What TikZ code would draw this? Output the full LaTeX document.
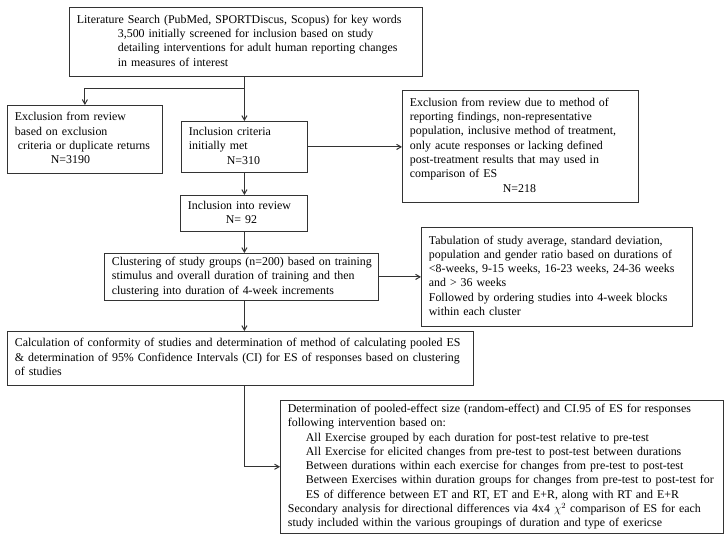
\documentclass[tikz,border=0pt]{standalone}
\usepackage{fontspec}
\setmainfont{Liberation Serif}
\usetikzlibrary{arrows}
\tikzstyle{kasten}=[draw=black!80,line width=0.8bp,anchor=north west,inner xsep=7.5bp,inner ysep=2bp,align=left,font=\fontsize{11.9bp}{14.3bp}\selectfont]
\tikzstyle{pfeil}=[draw=black!80,line width=1bp,-angle 60]
\newcommand{\einr}{\hspace*{18bp}}
\newcommand{\zeilen}[1]{\begin{tabular}{@{}l@{}}#1\end{tabular}}

\begin{document}
\begin{tikzpicture}[x=1bp,y=-1bp]
			% Rahmen festlegen
			\useasboundingbox (0,0) rectangle (726,545);
			% Kaesten zeichnen
			\node[kasten,text width=338bp,minimum height=69bp] (suche) at (69,7) {\zeilen{Literature Search (PubMed, SPORTDiscus, Scopus) for key words\\
				\hspace*{41bp}3,500 initially screened for inclusion based on study\\
				\hspace*{41bp}detailing interventions for adult human reporting changes\\
				\hspace*{41bp}in measures of interest}};
			\node[kasten,text width=140bp,minimum height=68bp] (ausschl) at (7,105) {\zeilen{Exclusion from review\\ based on exclusion\\ \hspace*{3bp}criteria or duplicate returns\\ \hspace*{36bp}N=3190}};
			\node[kasten,text width=111bp,minimum height=51bp] (einschl) at (181,121) {\zeilen{Inclusion criteria\\ initially met\\ \hspace*{38bp}N=310}};
			\node[kasten,text width=221bp,minimum height=112bp] (ausschlb) at (402,90) {\zeilen{Exclusion from review due to method of\\ reporting findings, non-representative\\ population, inclusive method of treatment,\\ only acute responses or lacking defined\\ post-treatment results that may used in\\ comparison of ES\\ \hspace*{93bp}N=218}};
			\node[kasten,text width=112bp,minimum height=36bp] (review) at (180,195) {\zeilen{Inclusion into review\\ \hspace*{38bp}N= 92}};
			\node[kasten,text width=259bp,minimum height=47bp] (cluster) at (104,253) {\zeilen{Clustering of study groups (n=200) based on training\\ stimulus and overall duration of training and then\\ clustering into duration of 4-week increments}};
			\node[kasten,text width=256bp,minimum height=99bp] (tab) at (421,227) {\zeilen{Tabulation of study average, standard deviation,\\ population and gender ratio based on durations of\\ <8-weeks, 9-15 weeks, 16-23 weeks, 24-36 weeks\\ and > 36 weeks\\ Followed by ordering studies into 4-week blocks\\ within each cluster}};
			\node[kasten,text width=451bp,minimum height=54bp] (calc) at (7,331) {\zeilen{Calculation of conformity of studies and determination of method of calculating pooled ES\\ \& determination of 95\% Confidence Intervals (CI) for ES of responses based on clustering\\ of studies}};
			\node[kasten,text width=428bp,minimum height=132bp] (pooled) at (280,400) {\zeilen{Determination of pooled-effect size (random-effect) and CI.95 of ES for responses\\ following intervention based on:\\
				\einr All Exercise grouped by each duration for post-test relative to pre-test\\
				\einr All Exercise for elicited changes from pre-test to post-test between durations\\
				\einr Between durations within each exercise for changes from pre-test to post-test\\
				\einr Between Exercises within duration groups for changes from pre-test to post-test for\\
				\einr ES of difference between ET and RT, ET and E+R, along with RT and E+R\\
				Secondary analysis for directional differences via 4x4 $\chi^2$ comparison of ES for each\\
				study included within the various groupings of duration and type of exericse}};
			% Pfeile zeichnen
			\draw[pfeil] (einschl.north |- suche.south) -- (einschl.north);
			\draw[pfeil] (einschl.north |- 0,89) -| (ausschl.north);
			\draw[pfeil] (einschl.east) -- (einschl.east -| ausschlb.west);
			\draw[pfeil] (einschl.south) -- (einschl.south |- review.north);
			\draw[pfeil] (einschl.south |- review.south) -- (einschl.south |- cluster.north);
			\draw[pfeil] (cluster.east) -- (cluster.east -| tab.west);
			\draw[pfeil] (einschl.south |- cluster.south) -- (einschl.south |- calc.north);
			\draw[pfeil] (einschl.south |- calc.south) |- (pooled.west);
		\end{tikzpicture}
\end{document}
